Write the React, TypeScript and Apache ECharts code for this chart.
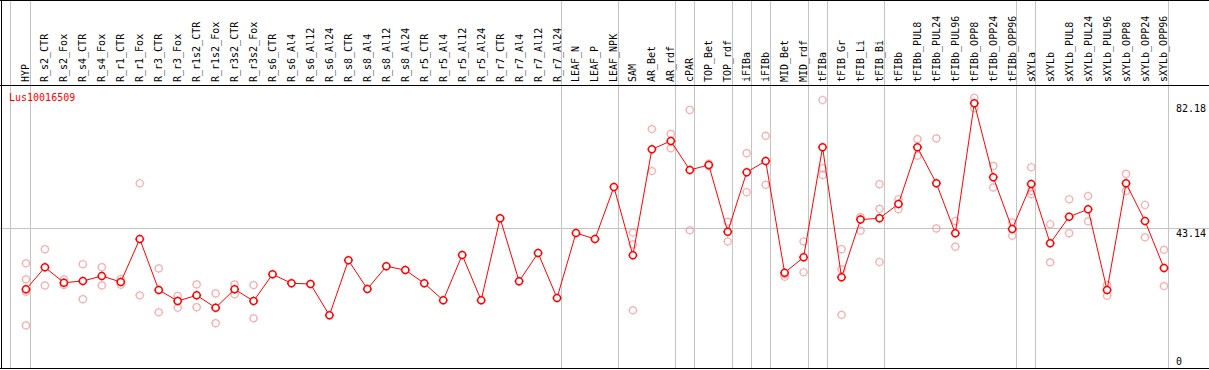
import React, { useEffect, useRef } from "react";
import * as echarts from "echarts";

const categories = [
  "HYP", "R_s2_CTR", "R_s2_Fox", "R_s4_CTR", "R_s4_Fox", "R_r1_CTR", "R_r1_Fox", "R_r3_CTR", "R_r3_Fox",
  "R_r1s2_CTR", "R_r1s2_Fox", "R_r3s2_CTR", "R_r3s2_Fox", "R_s6_CTR", "R_s6_Al4", "R_s6_Al12", "R_s6_Al24",
  "R_s8_CTR", "R_s8_Al4", "R_s8_Al12", "R_s8_Al24", "R_r5_CTR", "R_r5_Al4", "R_r5_Al12", "R_r5_Al24",
  "R_r7_CTR", "R_r7_Al4", "R_r7_Al12", "R_r7_Al24", "LEAF_N", "LEAF_P", "LEAF_NPK", "SAM", "AR_Bet", "AR_rdf",
  "cPAR", "TOP_Bet", "TOP_rdf", "iFIBa", "iFIBb", "MID_Bet", "MID_rdf", "tFIBa", "tFIB_Gr", "tFIB_Li", "tFIB_Bi",
  "tFIBb", "tFIBb_PUL8", "tFIBb_PUL24", "tFIBb_PUL96", "tFIBb_OPP8", "tFIBb_OPP24", "tFIBb_OPP96", "sXYLa",
  "sXYLb", "sXYLb_PUL8", "sXYLb_PUL24", "sXYLb_PUL96", "sXYLb_OPP8", "sXYLb_OPP24", "sXYLb_OPP96",
];

const meanValues = [
  24.08, 30.95, 26.15, 26.67, 28.23, 26.36, 39.79, 23.86, 20.42, 22.2, 18.33, 24.08, 20.42, 28.76, 25.95,
  25.73, 15.96, 33.13, 24.17, 31.26, 30.1, 25.95, 20.64, 34.79, 20.64, 46.25, 26.57, 35.41, 21.36, 41.66,
  39.79, 56.03, 34.7, 67.8, 70.4, 61.34, 62.9, 42.07, 60.62, 64.15, 29.26, 34.07, 68.43, 27.83, 45.85,
  46.25, 50.72, 68.43, 57.18, 41.57, 82.18, 59.06, 42.92, 56.96, 38.44, 46.75, 49.06, 23.86, 57.18, 45.41, 30.73,
];

const replicateValues: number[][] = [
  [32.2, 27.2, 23.3, 12.8], [36.6, 25.3], [27.2, 25.4], [31.9, 21.0], [31.0, 25.3], [27.3, 25.5],
  [57.2, 22.2], [30.6, 16.9], [22.0, 18.3], [25.6, 18.5], [22.8, 13.5], [25.6, 22.5], [25.4, 15.0],
  [], [], [], [], [], [], [], [], [], [], [], [], [], [], [], [], [], [], [],
  [41.8, 38.1, 17.5], [74.1, 61.0], [72.6, 68.1], [80.1, 42.5], [63.3, 62.6], [45.2, 39.0],
  [66.6, 54.4], [72.0, 56.7], [28.8, 28.0], [39.0, 29.4], [83.2, 61.9, 59.8], [36.6, 30.3, 16.1],
  [46.6, 42.4], [56.9, 49.2, 32.6], [52.2, 49.1], [71.0, 65.8], [71.2, 43.1], [45.4, 37.4],
  [83.9, 80.6], [62.6, 55.9], [45.0, 40.8], [62.2, 54.8, 53.8], [44.4, 32.5], [52.2, 41.6],
  [53.2, 45.3], [25.4, 22.1], [60.1, 54.8], [50.4, 40.3], [36.4, 25.1],
];

// indices of the last category of each group (a separator follows each)
const groupEnds = [0, 28, 31, 34, 35, 37, 38, 39, 41, 42, 45, 52, 53, 60];
const leftSeparator = -0.83;
const yTickLabels = [43.14, 82.18];
const yZeroLabel = [0];
const referenceValue = 43.14;
const geneName = "Lus10016509";

const MONO = "DejaVu Sans Mono";
const RED = "#ff0000";
const PINK = "#f29b9b";
const GRAY = "#c4c4c4";

const SYMBOL =
  "path://M0,-3.5A3.5,3.5,0,1,1,0,3.5A3.5,3.5,0,1,1,0,-3.5ZM0,-4.5L0,-3.5M0,3.5L0,4.5M-4.5,0L-3.5,0M3.5,0L4.5,0";

export default function App() {
  const ref = useRef<HTMLDivElement>(null);

  useEffect(() => {
    const el = ref.current!;
    const chart = echarts.init(el, null, { renderer: "svg" });

    const xMin = -25 / 19;
    const xMax = 1182 / 19;
    const yMax = 87.88;

    const replicatePoints: number[][] = [];
    replicateValues.forEach((vals, i) => vals.forEach((v) => replicatePoints.push([i, v])));

    const yLabelBase = {
      inside: true,
      margin: 30,
      align: "left",
      fontFamily: MONO,
      fontSize: 10,
      color: "#000",
      formatter: (v: number) => String(v),
    };

    chart.setOption({
      animation: false,
      grid: { left: 1, right: 1, top: 85, bottom: 3.6, containLabel: false },
      xAxis: {
        type: "value",
        position: "top",
        min: xMin,
        max: xMax,
        axisLine: { show: false },
        axisTick: { show: false },
        splitLine: { show: false },
        axisLabel: {
          rotate: 90,
          margin: 3,
          customValues: categories.map((_, i) => i),
          formatter: (v: number) => categories[Math.round(v)] ?? "",
          fontFamily: MONO,
          fontSize: 10,
          color: "#000",
        },
      },
      yAxis: [
        {
          type: "value",
          position: "right",
          min: 0,
          max: yMax,
          axisLine: { show: false },
          axisTick: { show: false },
          splitLine: { show: false },
          axisLabel: { ...yLabelBase, verticalAlign: "top", customValues: yTickLabels },
        },
        {
          type: "value",
          position: "right",
          min: 0,
          max: yMax,
          axisLine: { show: false },
          axisTick: { show: false },
          splitLine: { show: false },
          axisLabel: { ...yLabelBase, verticalAlign: "bottom", customValues: yZeroLabel },
        },
      ],
      series: [
        {
          type: "scatter",
          name: "replicates",
          data: replicatePoints,
          symbol: SYMBOL,
          symbolSize: 9,
          z: 3,
          itemStyle: { color: "rgba(0,0,0,0)", borderColor: PINK, borderWidth: 1.2 },
        },
        {
          type: "line",
          name: "mean",
          data: meanValues.map((v, i) => [i, v]),
          symbol: SYMBOL,
          symbolSize: 9,
          showAllSymbol: true,
          z: 4,
          lineStyle: { color: RED, width: 1 },
          itemStyle: { color: "#fff", borderColor: RED, borderWidth: 1.5 },
        },
      ],
    });

    const px = (v: number) => chart.convertToPixel({ xAxisIndex: 0 }, v) as number;
    const py = (v: number) => chart.convertToPixel({ yAxisIndex: 0 }, v) as number;

    const sepValues = [leftSeparator, ...groupEnds.map((i) => i + 0.25)];
    const graphics: any[] = [];
    sepValues.forEach((v) => {
      const x = Math.floor(px(v)) + 0.5;
      graphics.push({
        type: "line",
        z: 0,
        shape: { x1: x, y1: 0, x2: x, y2: 369 },
        style: { stroke: GRAY, lineWidth: 1 },
      });
    });
    const yr = Math.floor(py(referenceValue)) + 0.5;
    graphics.push({
      type: "line",
      z: 0,
      shape: { x1: 0, y1: yr, x2: 1209, y2: yr },
      style: { stroke: GRAY, lineWidth: 1 },
    });
    const frame = [
      [0, 0.5, 1209, 0.5],
      [0, 85.5, 1209, 85.5],
      [0, 368.5, 1209, 368.5],
      [1.5, 0, 1.5, 369],
    ];
    frame.forEach(([x1, y1, x2, y2]) =>
      graphics.push({
        type: "line",
        z: 10,
        shape: { x1, y1, x2, y2 },
        style: { stroke: "#000", lineWidth: 1 },
      })
    );
    graphics.push({
      type: "text",
      z: 10,
      x: 9,
      y: 97,
      style: {
        text: geneName,
        fill: RED,
        font: `10px "${MONO}"`,
        verticalAlign: "middle",
        align: "left",
      },
    });
    chart.setOption({ graphic: graphics });

    return () => chart.dispose();
  }, []);

  return (
    <div
      ref={ref}
      style={{ position: "absolute", left: 0, top: 0, width: 1209, height: 370, background: "#fff" }}
    />
  );
}
